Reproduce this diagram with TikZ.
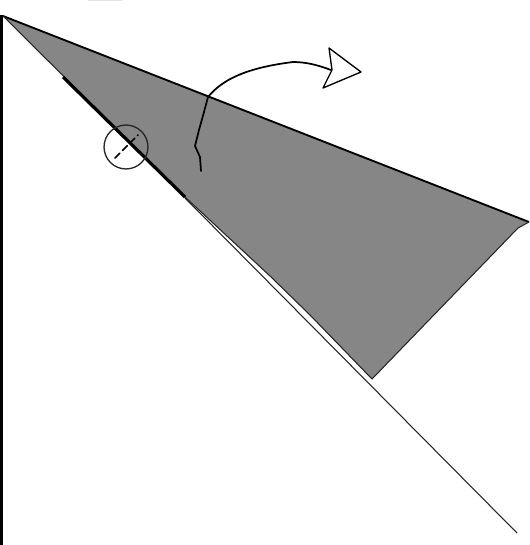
\documentclass[tikz,border=0pt]{standalone}
\usepackage{xcolor}
\definecolor{wedgecolor}{HTML}{868686}
\definecolor{smudgecolor}{HTML}{E4E4E4}
\tikzset{
    wedge/.style={
        fill=wedgecolor, draw=none
    },
    thin edge/.style={
        draw=black!85, line width=0.8pt, line join=round
    },
    heavy edge/.style={
        draw=black, line width=2.4pt
    },
    sketch line/.style={
        draw=black, line width=1.3pt, line join=round, line cap=round
    },
    pivot ring/.style={
        circle, draw=black!85, line width=1pt,
        inner sep=0pt, minimum size=1.16cm
    },
}
\begin{document}
\begin{tikzpicture}[x=0.0264cm, y=-0.0264cm]
    \useasboundingbox (0,0) rectangle (529,545);
    \coordinate (apex) at (3,16);
    \coordinate (tipright) at (529,222);
    \coordinate (cornerright) at (518,228);
    \coordinate (cornerlow) at (372,379);
    \coordinate (edgelow) at (310,315);
    \coordinate (edgemid) at (270,276);
    \coordinate (sheetstart) at (185,197);
    \coordinate (foldend) at (517,533);
    \coordinate (heavystart) at (63,77);
    \coordinate (wallend) at (1.5,545);

    \fill[smudgecolor] (88,0) rectangle (122,1.5);
    \fill[wedge] (apex) -- (tipright) -- (cornerright) -- (cornerlow) -- (edgelow) -- (edgemid) -- (sheetstart) -- cycle;

    \draw[thin edge, draw=black, line width=1.4pt] (apex) -- (tipright);
    \draw[thin edge] (tipright) -- (cornerright) -- (cornerlow) -- (edgelow) -- (edgemid) -- (sheetstart);
    \draw[thin edge] (apex) -- (sheetstart);
    \draw[thin edge] (sheetstart) ++(0,1) -- (foldend);
    \draw[heavy edge] (heavystart) -- (sheetstart);
    \draw[heavy edge, line width=2.2pt] (1.5,15) -- (wallend);

    % Pivot mark
    \node[pivot ring] (pivot) at (126,147) {};
    \draw[sketch line, dash pattern=on 5pt off 3pt] (115,158) -- (138,135);

    % Rotation arrow
    \draw[sketch line] (201,171) -- (200,157) -- (195,146) -- (199,130) -- (204,112) -- (208,97)
        .. controls (222,80) and (245,68) .. (293,62)
        .. controls (308,62) and (320,66) .. (331,70);
    \draw[sketch line, line width=1pt] (329,48) -- (332,70) -- (323,88) -- (361,72) -- cycle;
\end{tikzpicture}
\end{document}
